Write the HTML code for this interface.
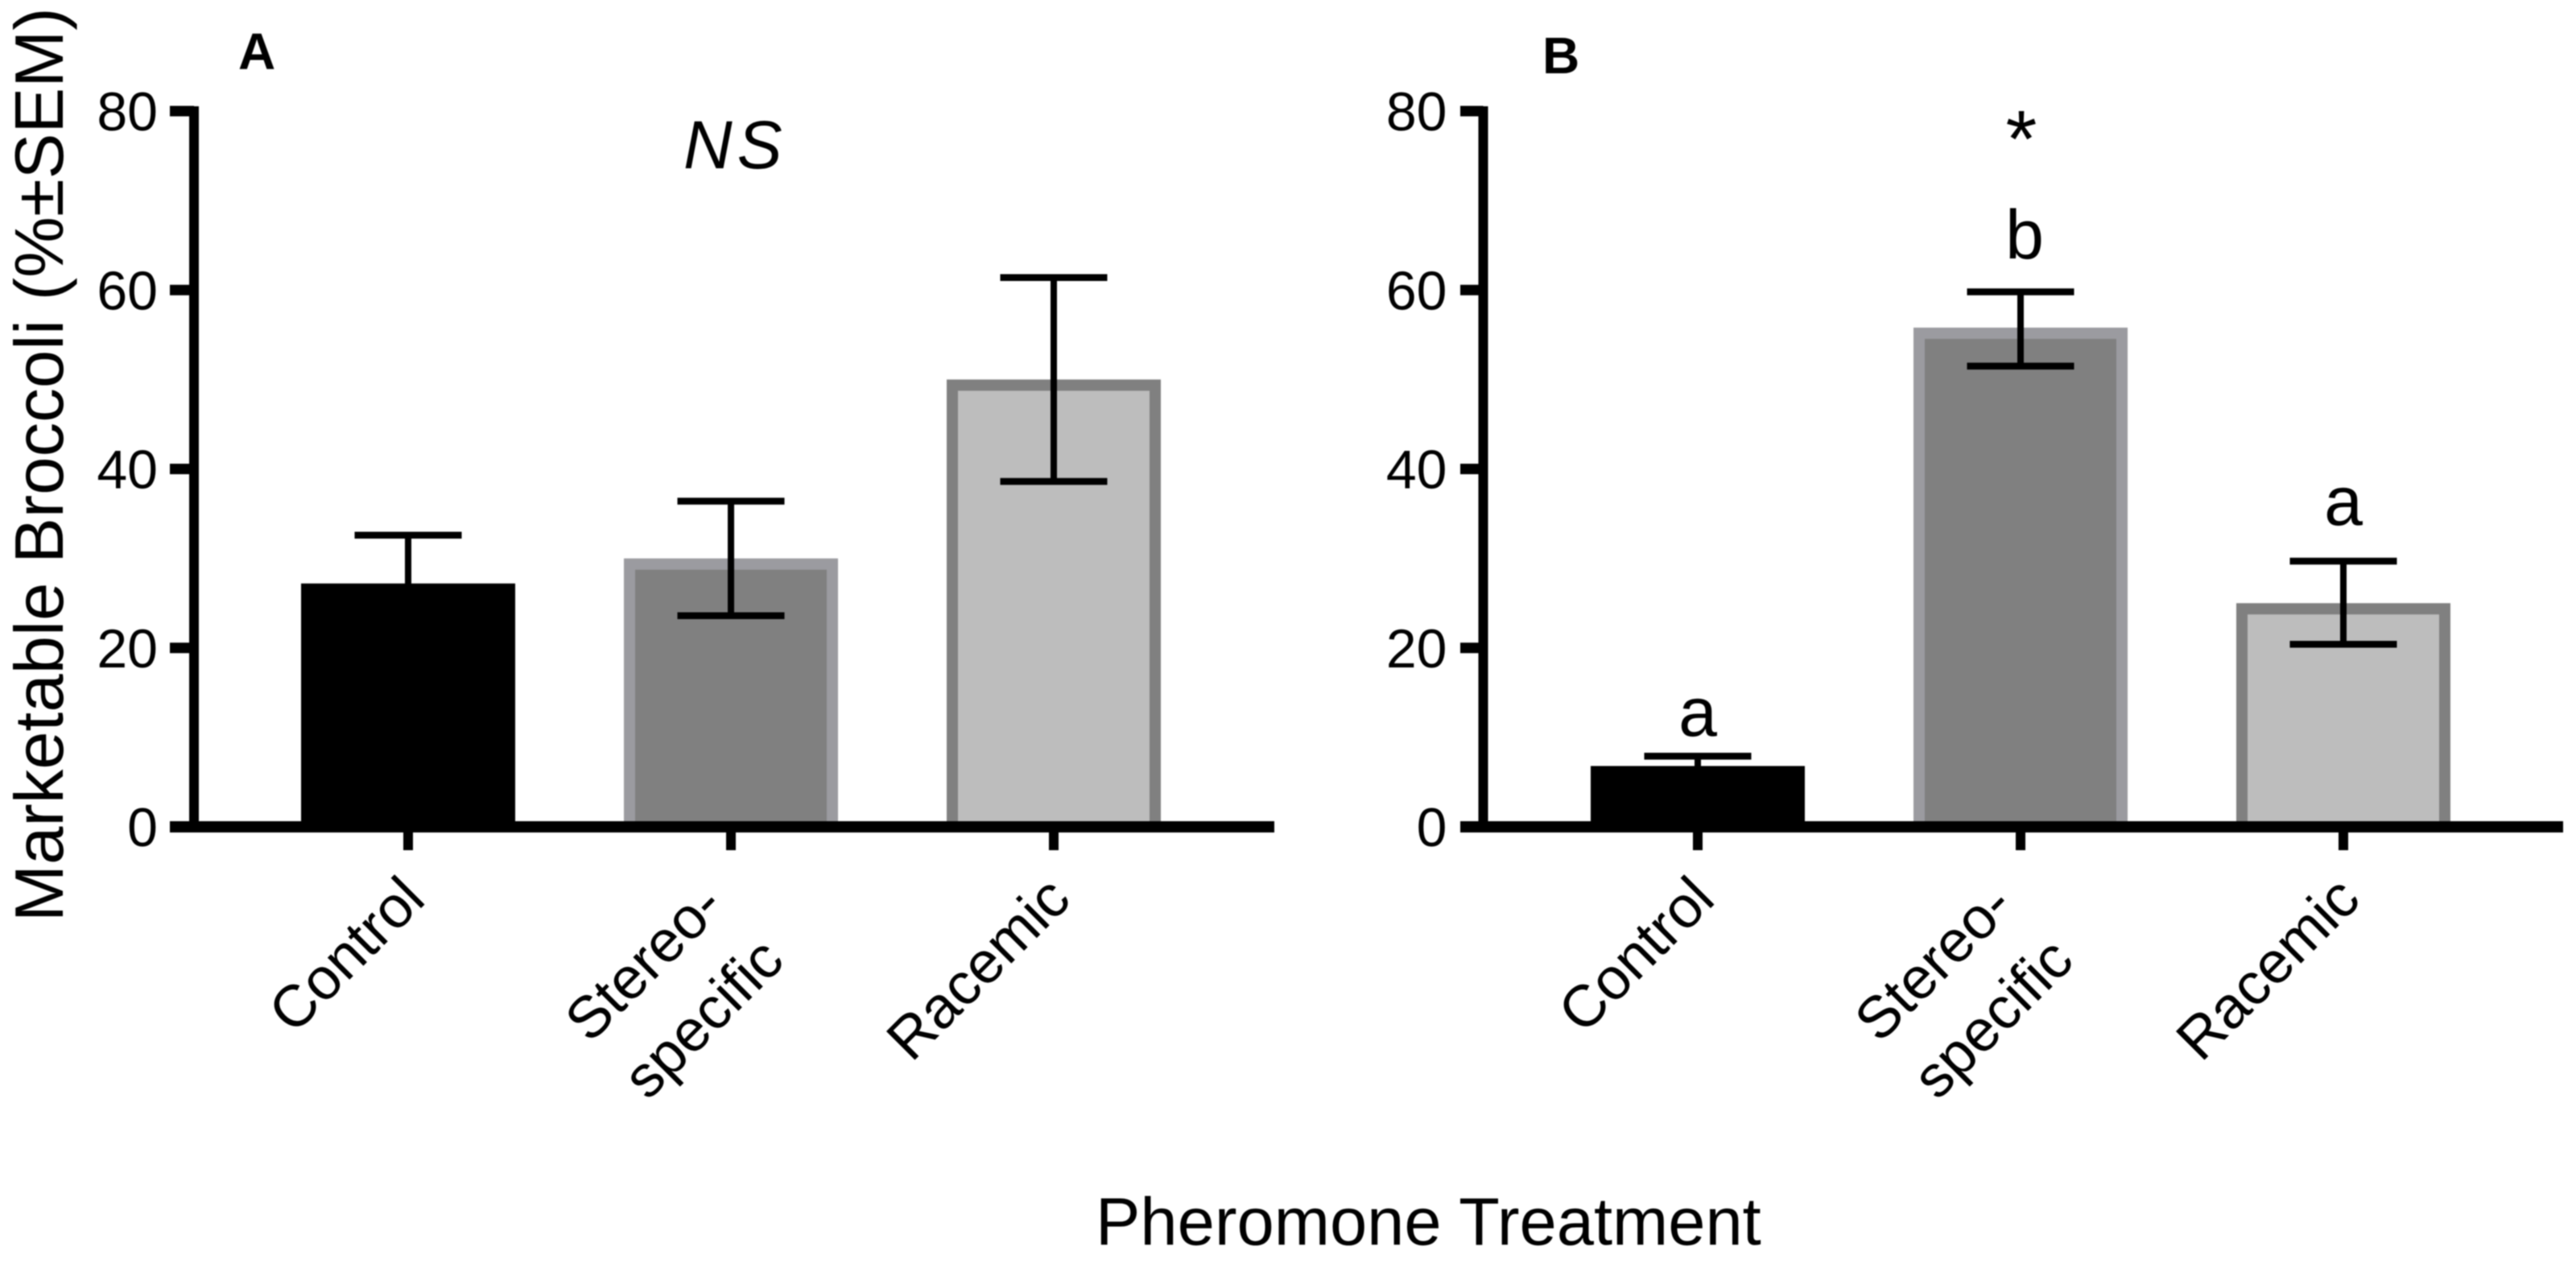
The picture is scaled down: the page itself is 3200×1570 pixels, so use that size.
<!DOCTYPE html>
<html lang="en">
<head>
<meta charset="utf-8">
<title>Marketable Broccoli by Pheromone Treatment</title>
<style>
  html, body { margin: 0; padding: 0; background: #ffffff; }
  svg { display: block; filter: blur(0.7px); }
  text { font-family: "Liberation Sans", sans-serif; fill: #000000; }
</style>
</head>
<body>
<svg id="chart" xmlns="http://www.w3.org/2000/svg" width="3200" height="1570" viewBox="0 0 3200 1570">
  <rect x="0" y="0" width="3200" height="1570" fill="#ffffff"/>
  <text transform="translate(78,1145) rotate(-90)" font-size="85.2">Marketable Broccoli (%±SEM)</text>
  <text x="1361" y="1546" font-size="83.1">Pheromone Treatment</text>
  <text x="296" y="86" font-size="64" font-weight="bold">A</text>
  <text x="1916" y="91" font-size="64" font-weight="bold">B</text>
  <text x="849" y="209" font-size="84" font-style="italic" letter-spacing="6">NS</text>
  <text x="2511" y="207" font-size="100" text-anchor="middle">*</text>
  <text x="2109" y="914" font-size="86" text-anchor="middle">a</text>
  <text x="2515" y="321" font-size="86" text-anchor="middle">b</text>
  <text x="2911" y="652" font-size="86" text-anchor="middle">a</text>
</svg>
<script>
const categories = ["Control", "Stereo-\nspecific", "Racemic"];
const yTickValues = [0, 20, 40, 60, 80];
const meansA = [27.2, 30, 50];
const upperA = [32.6, 36.4, 61.4];
const lowerA = [21.8, 23.6, 38.6];
const meansB = [6.8, 55.8, 25];
const upperB = [7.9, 59.8, 29.7];
const lowerB = [5.7, 51.5, 20.4];

const SVG_NS = "http://www.w3.org/2000/svg";
const svg = document.getElementById("chart");
const fills = ["#000000", "#808080", "#bdbdbd"];
const borders = ["#000000", "#9b9ba0", "#808080"];
const suffixes = ["control", "stereo-specific", "racemic"];

const plotBottom = 1027;
const pixelsPerUnit = 889 / 80;
const catStep = 401;
const barWidth = 266;
const borderW = 14;

function yScale(v) { return plotBottom - v * pixelsPerUnit; }

function shape(tag, parent) {
  const el = document.createElementNS(SVG_NS, tag);
  parent.appendChild(el);
  return el;
}
function setAll(el, attrs) {
  for (const k in attrs) el.setAttribute(k, attrs[k]);
}

function drawPanel(id, axisX, firstX, axisLeft, axisRight, means, upper, lower) {
  const xScale = i => firstX + i * catStep;
  const g = shape("g", svg);
  
  

  means.forEach((m, i) => {
    const cx = xScale(i);
    const top = yScale(m);
    const bar = shape("rect", g);
    setAll(bar, { x: cx - barWidth / 2, y: top, width: barWidth, height: plotBottom - top, fill: borders[i] });
    
    
    const inner = shape("rect", g);
    setAll(inner, {
      x: cx - barWidth / 2 + borderW, y: top + borderW,
      width: barWidth - 2 * borderW, height: Math.max(0, plotBottom - top - borderW), fill: fills[i]
    });
    
    
  });

  const yAxis = shape("line", g);
  setAll(yAxis, { x1: axisX, x2: axisX, y1: yScale(80) - 6, y2: plotBottom, stroke: "#000", "stroke-width": 12 });
  
  

  const xAxis = shape("line", g);
  setAll(xAxis, { x1: axisLeft, x2: axisRight, y1: plotBottom, y2: plotBottom, stroke: "#000", "stroke-width": 14 });
  
  

  yTickValues.forEach(v => {
    const y = yScale(v);
    if (v !== 0) {
      const tick = shape("line", g);
      setAll(tick, { x1: axisLeft, x2: axisX, y1: y, y2: y, stroke: "#000", "stroke-width": 13 });
      
      
    }
    const label = shape("text", g);
    setAll(label, { x: axisX - 45, y: y + 24, "font-size": 68, "text-anchor": "end" });
    label.textContent = String(v);
    
    
  });

  categories.forEach((c, i) => {
    const cx = xScale(i);
    const tick = shape("line", g);
    setAll(tick, { x1: cx, x2: cx, y1: plotBottom, y2: 1056, stroke: "#000", "stroke-width": 12 });
    
    

    const lines = c.split("\n");
    lines.forEach((line, j) => {
      let ex = cx + 24;
      let ey = 1120;
      if (lines.length > 1) {
        ex = cx - 6 + j * 75;
        ey = 1128 + j * 68;
      }
      const t = shape("text", g);
      setAll(t, { "font-size": 73, "text-anchor": "end", transform: "translate(" + ex + "," + ey + ") rotate(-45)" });
      t.textContent = line;
      
      
    });
  });

  means.forEach((m, i) => {
    const cx = xScale(i);
    const yHi = yScale(upper[i]);
    const yLo = yScale(lower[i]);
    const stem = shape("line", g);
    setAll(stem, { x1: cx, x2: cx, y1: yHi, y2: yLo, stroke: "#000", "stroke-width": 8 });
    
    
    [yHi, yLo].forEach((yy, k) => {
      const cap = shape("line", g);
      setAll(cap, { x1: cx - 66.5, x2: cx + 66.5, y1: yy, y2: yy, stroke: "#000", "stroke-width": 8.5 });
      
      
    });
  });
}

drawPanel("a", 241, 507, 211, 1583, meansA, upperA, lowerA);
drawPanel("b", 1842.5, 2109, 1814, 3184, meansB, upperB, lowerB);
</script>
</body>
</html>
